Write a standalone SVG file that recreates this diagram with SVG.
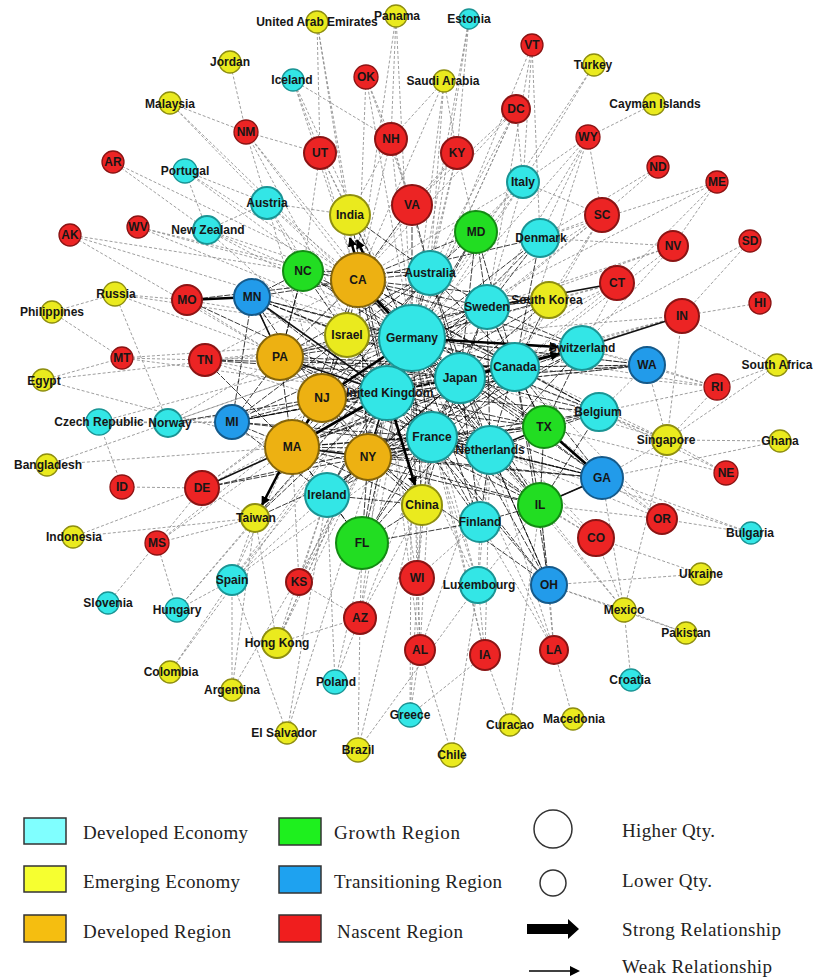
<svg xmlns="http://www.w3.org/2000/svg" width="814" height="978" viewBox="0 0 814 978">
<style>
.w{fill:none;stroke:#858585;stroke-width:0.8;stroke-dasharray:3 2}
.c{fill:none;stroke:#000;stroke-width:0.9;stroke-dasharray:6 1.5;opacity:0.85}
.m{fill:none;stroke:#111;stroke-width:1.6}
.s{fill:none;stroke:#000;stroke-width:2.6}
.nodes circle{stroke-width:2}
.nodes .sm circle{stroke-width:1.3}
.nodes text{font-family:"Liberation Sans",Arial,sans-serif;font-weight:bold;font-size:12px;text-anchor:middle;fill:#161616}
.de circle{fill:#33E6E6;stroke:#1A9494}
.em circle{fill:#EAEA1E;stroke:#8E8E10}
.dr circle{fill:#EDB112;stroke:#85650A}
.gr circle{fill:#22DD22;stroke:#138A13}
.tr circle{fill:#229BEA;stroke:#155A8A}
.na circle{fill:#EC2424;stroke:#8A1414}
.lg rect{stroke:#333;stroke-width:1.5}
.lg text{font-family:"Liberation Serif","Times New Roman",serif;font-size:19px;fill:#222}
</style>
<defs>
<marker id="ah" viewBox="0 0 10 10" refX="9" refY="5" markerWidth="3.6" markerHeight="3.6" orient="auto" markerUnits="strokeWidth"><path d="M0 0L10 5L0 10z" fill="#000"/></marker>
</defs>
<rect width="814" height="978" fill="#fff"/>
<g id="connectors">
<path class="w" d="M317 22L350 215M317 22L358 280M317 22L320 153M396 16L391 139M396 16L358 280M396 16L412 338M469 19L457 153M469 19L412 338M469 19L430 273M293 80L320 153M293 80L358 280M293 80L412 338M293 80L391 139M366 77L391 139M366 77L412 205M366 77L358 280M366 77L412 338M444 81L391 139M444 81L457 153M444 81L358 280M444 81L412 338M444 81L430 273M532 45L523 182M532 45L412 338M532 45L487 307M532 45L540 238M594 65L523 182M594 65L412 338M654 104L588 137M588 137L523 182M588 137L540 238M588 137L602 215M588 137L412 338M588 137L515 367M588 137L487 307M516 109L523 182M516 109L412 338M516 109L387 393M516 109L358 280M516 109L430 273M516 109L412 205M658 167L602 215M658 167L540 238M717 182L617 283M717 182L673 246M717 182L540 238M717 182L412 338M750 241L682 316M750 241L515 367M673 246L412 338M673 246L515 367M673 246L582 348M673 246L540 238M673 246L487 307M602 215L412 338M602 215L540 238M602 215L487 307M602 215L515 367M602 215L387 393M602 215L523 182M602 215L549 300M617 283L412 338M617 283L387 393M617 283L582 348M617 283L460 378M617 283L515 367M617 283L549 300M760 303L682 316M682 316L515 367M682 316L412 338M682 316L387 393M682 316L460 378M682 316L777 365M682 316L667 440M777 365L717 387M777 365L667 440M717 387L647 365M717 387L582 348M717 387L515 367M717 387L667 440M717 387L599 412M717 387L412 338M647 365L582 348M647 365L515 367M647 365L412 338M647 365L460 378M647 365L387 393M647 365L667 440M647 365L599 412M780 441L602 478M780 441L667 440M726 473L667 440M726 473L599 412M726 473L544 427M667 440L599 412M667 440L602 478M667 440L515 367M667 440L412 338M667 440L624 610M667 440L460 378M751 533L662 519M751 533L602 478M751 533L490 450M662 519L602 478M662 519L490 450M662 519L540 505M662 519L544 427M662 519L515 367M596 538L490 450M596 538L540 505M596 538L412 338M596 538L624 610M596 538L701 574M596 538L432 437M701 574L549 585M624 610L549 585M624 610L490 450M624 610L540 505M624 610L631 680M624 610L686 633M624 610L602 478M686 633L549 585M554 650L549 585M554 650L573 719M554 650L490 450M554 650L412 338M554 650L480 522M554 650L540 505M485 655L478 585M485 655L432 437M485 655L490 450M485 655L510 725M485 655L412 338M485 655L410 715M510 725L540 505M452 755L420 650M452 755L478 585M410 715L420 650M410 715L422 505M410 715L412 338M420 650L417 578M420 650L412 338M420 650L432 437M420 650L490 450M420 650L387 393M358 750L360 618M358 750L478 585M358 750L432 437M335 682L327 495M335 682L412 338M335 682L360 618M287 733L232 580M287 733L327 495M287 733L412 338M232 690L255 518M232 690L232 580M232 690L368 457M170 672L232 580M170 672L412 338M277 643L255 518M277 643L412 338M277 643L387 393M277 643L360 618M277 643L327 495M277 643L368 457M360 618L362 543M360 618L299 582M360 618L412 338M360 618L387 393M360 618L432 437M360 618L422 505M417 578L412 338M417 578L387 393M417 578L432 437M417 578L422 505M417 578L480 522M299 582L327 495M299 582L368 457M299 582L412 338M299 582L387 393M299 582L292 447M478 585L412 338M478 585L387 393M478 585L432 437M478 585L490 450M478 585L480 522M478 585L540 505M232 580L255 518M232 580L412 338M232 580L387 393M232 580L327 495M232 580L432 437M232 580L292 447M177 610L232 580M177 610L255 518M177 610L157 543M177 610L412 338M108 603L157 543M157 543L255 518M157 543L202 488M157 543L292 447M157 543L412 338M73 537L202 488M73 537L255 518M122 487L202 488M122 487L99 422M202 488L387 393M202 488L412 338M202 488L322 398M202 488L255 518M47 465L292 447M47 465L412 338M99 422L168 423M99 422L232 422M99 422L412 338M168 423L232 422M168 423L412 338M168 423L387 393M168 423L280 357M168 423L115 294M43 380L122 358M43 380L292 447M43 380L412 338M122 358L205 360M122 358L412 338M122 358L387 393M122 358L52 312M205 360L280 357M205 360L412 338M205 360L387 393M205 360L322 398M205 360L358 280M52 312L115 294M115 294L187 300M115 294L412 338M115 294L387 393M187 300L280 357M187 300L412 338M70 235L412 338M70 235L358 280M70 235L280 357M138 227L358 280M138 227L412 338M138 227L303 271M207 230L267 203M207 230L412 338M207 230L358 280M207 230L303 271M207 230L387 393M113 162L207 230M113 162L358 280M185 171L267 203M185 171L207 230M185 171L412 338M185 171L358 280M170 103L246 132M170 103L267 203M170 103L412 338M230 62L246 132M246 132L267 203M246 132L358 280M246 132L412 338M246 132L387 393M246 132L320 153M267 203L358 280M267 203L412 338M267 203L303 271M267 203L350 215M267 203L387 393M267 203L322 398M320 153L350 215M320 153L358 280M320 153L412 338M320 153L303 271M391 139L350 215M391 139L358 280M391 139L412 338M391 139L412 205M391 139L430 273M457 153L412 338M457 153L412 205M457 153L476 232M457 153L358 280M457 153L430 273M523 182L412 338M523 182L358 280M523 182L476 232M523 182L487 307M523 182L430 273M523 182L387 393"/>
<path class="c" d="M412 338L387 393M412 338L460 378M412 338L515 367M412 338L432 437M412 338L490 450M412 338L487 307M412 338L430 273M412 338L358 280M412 338L280 357M412 338L292 447M412 338L368 457M412 338L347 335M412 338L327 495M412 338L422 505M412 338L303 271M412 338L476 232M412 338L544 427M412 338L540 505M412 338L362 543M412 338L599 412M412 338L480 522M412 338L540 238M412 338L350 215M412 338L412 205M412 338L549 300M412 338L602 478M412 338L252 297M412 338L232 422M412 338L647 365M412 338L549 585M387 393L460 378M387 393L515 367M387 393L432 437M387 393L490 450M387 393L487 307M387 393L430 273M387 393L358 280M387 393L280 357M387 393L322 398M387 393L368 457M387 393L347 335M387 393L327 495M387 393L303 271M387 393L476 232M387 393L544 427M387 393L540 505M387 393L362 543M387 393L582 348M387 393L599 412M387 393L480 522M387 393L540 238M387 393L350 215M387 393L549 300M387 393L602 478M387 393L232 422M387 393L647 365M387 393L549 585M358 280L460 378M358 280L515 367M358 280L432 437M358 280L490 450M358 280L487 307M358 280L430 273M358 280L280 357M358 280L322 398M358 280L292 447M358 280L368 457M358 280L347 335M358 280L303 271M358 280L476 232M358 280L544 427M358 280L582 348M358 280L540 238M358 280L412 205M358 280L252 297M358 280L549 300M358 280L540 505M358 280L599 412M292 447L460 378M292 447L515 367M292 447L432 437M292 447L490 450M292 447L368 457M292 447L280 357M292 447L327 495M292 447L422 505M292 447L362 543M292 447L544 427M292 447L540 505M292 447L602 478M292 447L232 422M292 447L582 348M292 447L487 307M292 447L430 273M322 398L460 378M322 398L515 367M322 398L432 437M322 398L490 450M322 398L368 457M322 398L280 357M322 398L347 335M322 398L422 505M322 398L544 427M322 398L582 348M322 398L232 422M322 398L252 297M322 398L487 307M322 398L430 273M322 398L540 505M368 457L460 378M368 457L515 367M368 457L432 437M368 457L490 450M368 457L422 505M368 457L327 495M368 457L362 543M368 457L540 505M368 457L544 427M368 457L602 478M368 457L549 585M368 457L582 348M368 457L599 412M280 357L460 378M280 357L515 367M280 357L432 437M280 357L490 450M280 357L347 335M280 357L232 422M280 357L252 297M280 357L487 307M280 357L430 273M280 357L303 271M460 378L515 367M460 378L432 437M460 378L490 450M460 378L487 307M460 378L430 273M460 378L544 427M460 378L540 505M460 378L582 348M460 378L599 412M460 378L549 300M460 378L602 478M460 378L647 365M460 378L422 505M460 378L480 522M460 378L476 232M460 378L327 495M460 378L362 543M515 367L432 437M515 367L490 450M515 367L487 307M515 367L430 273M515 367L544 427M515 367L540 505M515 367L582 348M515 367L599 412M515 367L549 300M515 367L602 478M515 367L647 365M515 367L476 232M515 367L540 238M515 367L327 495M515 367L362 543M515 367L549 585M432 437L490 450M432 437L422 505M432 437L327 495M432 437L362 543M432 437L544 427M432 437L540 505M432 437L602 478M432 437L549 585M432 437L480 522M432 437L599 412M432 437L582 348M432 437L487 307M490 450L540 505M490 450L602 478M490 450L549 585M490 450L480 522M490 450L599 412M490 450L582 348M490 450L487 307M490 450L430 273M544 427L540 505M544 427L599 412M544 427L582 348M544 427L487 307M487 307L430 273M487 307L582 348M487 307L549 300M487 307L476 232M487 307L540 238M487 307L347 335M430 273L476 232M430 273L303 271M430 273L347 335M430 273L350 215M430 273L412 205M540 505L602 478M540 505L549 585M540 505L480 522M540 505L599 412M362 543L327 495M362 543L422 505M362 543L480 522M327 495L422 505M327 495L232 422M252 297L303 271M252 297L347 335M252 297L232 422M232 422L347 335M252 297L460 378M252 297L515 367M252 297L432 437M232 422L460 378M232 422L515 367M232 422L432 437M232 422L490 450M205 360L460 378M205 360L515 367M187 300L358 280M187 300L387 393M202 488L432 437M202 488L368 457M255 518L387 393M255 518L412 338M255 518L432 437M327 495L460 378M602 478L432 437M549 585L490 450M168 423L322 398M205 360L292 447M303 271L280 357M303 271L460 378M303 271L515 367"/>
<path class="m" d="M252 297L387 393M682 316L582 348M544 427L490 450M540 505L602 478M617 283L487 307M292 447L368 457M280 357L387 393M368 457L387 393M202 488L292 447M252 297L280 357"/>
<path class="s" d="M292 447L387 393M322 398L412 338M358 280L412 338M292 447L322 398M187 300L252 297M544 427L602 478"/>
<path class="s" marker-end="url(#ah)" d="M355 255L350 238"/>
<path class="s" marker-end="url(#ah)" d="M364 255L357 240"/>
<path class="s" marker-end="url(#ah)" d="M292 447L262 505"/>
<path class="s" marker-end="url(#ah)" d="M387 393L415 485"/>
<path class="s" marker-end="url(#ah)" d="M412 338L558 347"/>
<path class="s" marker-end="url(#ah)" d="M460 378L559 354"/>
</g>
<g class="nodes">
<g id="n-germany" class="de"><circle cx="412" cy="338" r="33"/><text x="412" y="342">Germany</text></g>
<g id="n-uk" class="de"><circle cx="387" cy="393" r="27"/><text x="387" y="397">United Kingdom</text></g>
<g id="n-japan" class="de"><circle cx="460" cy="378" r="25"/><text x="460" y="382">Japan</text></g>
<g id="n-canada" class="de"><circle cx="515" cy="367" r="24"/><text x="515" y="371">Canada</text></g>
<g id="n-france" class="de"><circle cx="432" cy="437" r="25"/><text x="432" y="441">France</text></g>
<g id="n-netherlands" class="de"><circle cx="490" cy="450" r="24"/><text x="490" y="454">Netherlands</text></g>
<g id="n-sweden" class="de"><circle cx="487" cy="307" r="22"/><text x="487" y="311">Sweden</text></g>
<g id="n-australia" class="de"><circle cx="430" cy="273" r="22"/><text x="430" y="277">Australia</text></g>
<g id="n-ireland" class="de"><circle cx="327" cy="495" r="22"/><text x="327" y="499">Ireland</text></g>
<g id="n-italy" class="de"><circle cx="523" cy="182" r="16"/><text x="523" y="186">Italy</text></g>
<g id="n-denmark" class="de"><circle cx="540" cy="238" r="19"/><text x="541" y="242">Denmark</text></g>
<g id="n-switzerland" class="de"><circle cx="582" cy="348" r="22"/><text x="582" y="352">Switzerland</text></g>
<g id="n-belgium" class="de"><circle cx="599" cy="412" r="19"/><text x="598" y="416">Belgium</text></g>
<g id="n-finland" class="de"><circle cx="480" cy="522" r="20"/><text x="480" y="526">Finland</text></g>
<g id="n-luxembourg" class="de"><circle cx="478" cy="585" r="18"/><text x="479" y="589">Luxembourg</text></g>
<g id="n-austria" class="de"><circle cx="267" cy="203" r="16"/><text x="267" y="207">Austria</text></g>
<g id="n-newzealand" class="de"><circle cx="207" cy="230" r="14"/><text x="208" y="234">New Zealand</text></g>
<g id="n-portugal" class="de sm"><circle cx="185" cy="171" r="12"/><text x="185" y="175">Portugal</text></g>
<g id="n-iceland" class="de sm"><circle cx="293" cy="80" r="11"/><text x="292" y="84">Iceland</text></g>
<g id="n-estonia" class="de sm"><circle cx="469" cy="19" r="10"/><text x="469" y="23">Estonia</text></g>
<g id="n-czech" class="de sm"><circle cx="99" cy="422" r="13"/><text x="99" y="426">Czech Republic</text></g>
<g id="n-norway" class="de"><circle cx="168" cy="423" r="14"/><text x="170" y="427">Norway</text></g>
<g id="n-spain" class="de"><circle cx="232" cy="580" r="15"/><text x="232" y="584">Spain</text></g>
<g id="n-hungary" class="de sm"><circle cx="177" cy="610" r="12"/><text x="177" y="614">Hungary</text></g>
<g id="n-slovenia" class="de sm"><circle cx="108" cy="603" r="11"/><text x="108" y="607">Slovenia</text></g>
<g id="n-poland" class="de sm"><circle cx="335" cy="682" r="12"/><text x="336" y="686">Poland</text></g>
<g id="n-greece" class="de sm"><circle cx="410" cy="715" r="12"/><text x="410" y="719">Greece</text></g>
<g id="n-bulgaria" class="de sm"><circle cx="751" cy="533" r="11"/><text x="750" y="537">Bulgaria</text></g>
<g id="n-croatia" class="de sm"><circle cx="631" cy="680" r="11"/><text x="630" y="684">Croatia</text></g>
<g id="n-india" class="em"><circle cx="350" cy="215" r="20"/><text x="350" y="219">India</text></g>
<g id="n-israel" class="em"><circle cx="347" cy="335" r="22"/><text x="347" y="339">Israel</text></g>
<g id="n-china" class="em"><circle cx="422" cy="505" r="20"/><text x="422" y="509">China</text></g>
<g id="n-southkorea" class="em"><circle cx="549" cy="300" r="18"/><text x="547" y="304">South Korea</text></g>
<g id="n-singapore" class="em"><circle cx="667" cy="440" r="15"/><text x="666" y="444">Singapore</text></g>
<g id="n-taiwan" class="em"><circle cx="255" cy="518" r="14"/><text x="256" y="522">Taiwan</text></g>
<g id="n-hongkong" class="em"><circle cx="277" cy="643" r="15"/><text x="277" y="647">Hong Kong</text></g>
<g id="n-russia" class="em sm"><circle cx="115" cy="294" r="12"/><text x="116" y="298">Russia</text></g>
<g id="n-philippines" class="em sm"><circle cx="52" cy="312" r="11"/><text x="52" y="316">Philippines</text></g>
<g id="n-egypt" class="em sm"><circle cx="43" cy="380" r="11"/><text x="44" y="385">Egypt</text></g>
<g id="n-bangladesh" class="em sm"><circle cx="47" cy="465" r="11"/><text x="48" y="469">Bangladesh</text></g>
<g id="n-indonesia" class="em sm"><circle cx="73" cy="537" r="11"/><text x="74" y="541">Indonesia</text></g>
<g id="n-colombia" class="em sm"><circle cx="170" cy="672" r="11"/><text x="171" y="676">Colombia</text></g>
<g id="n-argentina" class="em sm"><circle cx="232" cy="690" r="11"/><text x="232" y="694">Argentina</text></g>
<g id="n-elsalvador" class="em sm"><circle cx="287" cy="733" r="11"/><text x="284" y="737">El Salvador</text></g>
<g id="n-brazil" class="em sm"><circle cx="358" cy="750" r="12"/><text x="358" y="754">Brazil</text></g>
<g id="n-chile" class="em sm"><circle cx="452" cy="755" r="12"/><text x="452" y="759">Chile</text></g>
<g id="n-curacao" class="em sm"><circle cx="510" cy="725" r="11"/><text x="510" y="729">Curacao</text></g>
<g id="n-macedonia" class="em sm"><circle cx="573" cy="719" r="11"/><text x="574" y="723">Macedonia</text></g>
<g id="n-mexico" class="em sm"><circle cx="624" cy="610" r="12"/><text x="624" y="614">Mexico</text></g>
<g id="n-pakistan" class="em sm"><circle cx="686" cy="633" r="11"/><text x="686" y="637">Pakistan</text></g>
<g id="n-ukraine" class="em sm"><circle cx="701" cy="574" r="11"/><text x="701" y="578">Ukraine</text></g>
<g id="n-ghana" class="em sm"><circle cx="780" cy="441" r="11"/><text x="780" y="445">Ghana</text></g>
<g id="n-southafrica" class="em sm"><circle cx="777" cy="365" r="11"/><text x="777" y="369">South Africa</text></g>
<g id="n-cayman" class="em sm"><circle cx="654" cy="104" r="11"/><text x="655" y="108">Cayman Islands</text></g>
<g id="n-turkey" class="em sm"><circle cx="594" cy="65" r="11"/><text x="593" y="69">Turkey</text></g>
<g id="n-saudi" class="em sm"><circle cx="444" cy="81" r="11"/><text x="443" y="85">Saudi Arabia</text></g>
<g id="n-panama" class="em sm"><circle cx="396" cy="16" r="11"/><text x="397" y="20">Panama</text></g>
<g id="n-uae" class="em sm"><circle cx="317" cy="22" r="11"/><text x="317" y="26">United Arab Emirates</text></g>
<g id="n-jordan" class="em sm"><circle cx="230" cy="62" r="11"/><text x="230" y="66">Jordan</text></g>
<g id="n-malaysia" class="em sm"><circle cx="170" cy="103" r="11"/><text x="170" y="108">Malaysia</text></g>
<g id="n-ca" class="dr"><circle cx="358" cy="280" r="27"/><text x="358" y="284">CA</text></g>
<g id="n-pa" class="dr"><circle cx="280" cy="357" r="23"/><text x="280" y="361">PA</text></g>
<g id="n-nj" class="dr"><circle cx="322" cy="398" r="24"/><text x="322" y="402">NJ</text></g>
<g id="n-ma" class="dr"><circle cx="292" cy="447" r="27"/><text x="292" y="451">MA</text></g>
<g id="n-ny" class="dr"><circle cx="368" cy="457" r="23"/><text x="368" y="461">NY</text></g>
<g id="n-nc" class="gr"><circle cx="303" cy="271" r="20"/><text x="303" y="275">NC</text></g>
<g id="n-md" class="gr"><circle cx="476" cy="232" r="21"/><text x="476" y="236">MD</text></g>
<g id="n-tx" class="gr"><circle cx="544" cy="427" r="21"/><text x="544" y="431">TX</text></g>
<g id="n-il" class="gr"><circle cx="540" cy="505" r="22"/><text x="540" y="509">IL</text></g>
<g id="n-fl" class="gr"><circle cx="362" cy="543" r="26"/><text x="362" y="547">FL</text></g>
<g id="n-mn" class="tr"><circle cx="252" cy="297" r="18"/><text x="252" y="301">MN</text></g>
<g id="n-mi" class="tr"><circle cx="232" cy="422" r="17"/><text x="232" y="426">MI</text></g>
<g id="n-wa" class="tr"><circle cx="647" cy="365" r="18"/><text x="647" y="369">WA</text></g>
<g id="n-ga" class="tr"><circle cx="602" cy="478" r="21"/><text x="602" y="482">GA</text></g>
<g id="n-oh" class="tr"><circle cx="549" cy="585" r="18"/><text x="549" y="589">OH</text></g>
<g id="n-va" class="na"><circle cx="412" cy="205" r="20"/><text x="412" y="209">VA</text></g>
<g id="n-ut" class="na"><circle cx="320" cy="153" r="16"/><text x="320" y="157">UT</text></g>
<g id="n-nh" class="na"><circle cx="391" cy="139" r="16"/><text x="391" y="143">NH</text></g>
<g id="n-ky" class="na"><circle cx="457" cy="153" r="16"/><text x="457" y="157">KY</text></g>
<g id="n-ok" class="na sm"><circle cx="366" cy="77" r="12"/><text x="366" y="81">OK</text></g>
<g id="n-dc" class="na"><circle cx="516" cy="109" r="14"/><text x="516" y="113">DC</text></g>
<g id="n-vt" class="na sm"><circle cx="532" cy="45" r="11"/><text x="532" y="49">VT</text></g>
<g id="n-wy" class="na sm"><circle cx="588" cy="137" r="12"/><text x="588" y="141">WY</text></g>
<g id="n-nd" class="na sm"><circle cx="658" cy="167" r="11"/><text x="658" y="171">ND</text></g>
<g id="n-me" class="na sm"><circle cx="717" cy="182" r="11"/><text x="717" y="186">ME</text></g>
<g id="n-sc" class="na"><circle cx="602" cy="215" r="17"/><text x="602" y="219">SC</text></g>
<g id="n-nv" class="na"><circle cx="673" cy="246" r="15"/><text x="673" y="250">NV</text></g>
<g id="n-sd" class="na sm"><circle cx="750" cy="241" r="11"/><text x="750" y="245">SD</text></g>
<g id="n-ct" class="na"><circle cx="617" cy="283" r="17"/><text x="617" y="287">CT</text></g>
<g id="n-in" class="na"><circle cx="682" cy="316" r="17"/><text x="682" y="320">IN</text></g>
<g id="n-hi" class="na sm"><circle cx="760" cy="303" r="11"/><text x="760" y="307">HI</text></g>
<g id="n-ri" class="na sm"><circle cx="717" cy="387" r="13"/><text x="717" y="391">RI</text></g>
<g id="n-ne" class="na sm"><circle cx="726" cy="473" r="12"/><text x="726" y="477">NE</text></g>
<g id="n-or" class="na"><circle cx="662" cy="519" r="15"/><text x="662" y="523">OR</text></g>
<g id="n-co" class="na"><circle cx="596" cy="538" r="18"/><text x="596" y="542">CO</text></g>
<g id="n-la" class="na"><circle cx="554" cy="650" r="14"/><text x="554" y="654">LA</text></g>
<g id="n-ia" class="na"><circle cx="485" cy="655" r="15"/><text x="485" y="659">IA</text></g>
<g id="n-al" class="na"><circle cx="420" cy="650" r="15"/><text x="420" y="654">AL</text></g>
<g id="n-az" class="na"><circle cx="360" cy="618" r="16"/><text x="360" y="622">AZ</text></g>
<g id="n-wi" class="na"><circle cx="417" cy="578" r="17"/><text x="417" y="582">WI</text></g>
<g id="n-ks" class="na"><circle cx="299" cy="582" r="13"/><text x="299" y="586">KS</text></g>
<g id="n-ms" class="na sm"><circle cx="157" cy="543" r="12"/><text x="157" y="547">MS</text></g>
<g id="n-id" class="na sm"><circle cx="122" cy="487" r="12"/><text x="122" y="491">ID</text></g>
<g id="n-de" class="na"><circle cx="202" cy="488" r="17"/><text x="202" y="492">DE</text></g>
<g id="n-tn" class="na"><circle cx="205" cy="360" r="16"/><text x="205" y="364">TN</text></g>
<g id="n-mt" class="na sm"><circle cx="122" cy="358" r="11"/><text x="122" y="362">MT</text></g>
<g id="n-mo" class="na"><circle cx="187" cy="300" r="15"/><text x="187" y="304">MO</text></g>
<g id="n-wv" class="na sm"><circle cx="138" cy="227" r="11"/><text x="138" y="231">WV</text></g>
<g id="n-ak" class="na sm"><circle cx="70" cy="235" r="11"/><text x="70" y="239">AK</text></g>
<g id="n-ar" class="na sm"><circle cx="113" cy="162" r="11"/><text x="113" y="166">AR</text></g>
<g id="n-nm" class="na sm"><circle cx="246" cy="132" r="12"/><text x="246" y="136">NM</text></g>
</g>
<g id="legend" class="lg">
<rect x="24" y="818" width="42" height="26" fill="#80FFFF"/>
<text x="83" y="839" textLength="165">Developed Economy</text>
<rect x="24" y="866" width="42" height="26" fill="#F6FF30"/>
<text x="83" y="888" textLength="157">Emerging Economy</text>
<rect x="24" y="915" width="42" height="27" fill="#F5BE10"/>
<text x="83" y="938" textLength="148">Developed Region</text>
<rect x="279" y="818" width="42" height="27" fill="#1EF01E"/>
<text x="334" y="839" textLength="126">Growth Region</text>
<rect x="279" y="866" width="42" height="27" fill="#1EA2F0"/>
<text x="334" y="888" textLength="168">Transitioning Region</text>
<rect x="279" y="915" width="42" height="27" fill="#F01E1E"/>
<text x="337" y="938" textLength="126">Nascent Region</text>
<circle cx="553" cy="829" r="19" fill="none" stroke="#333" stroke-width="1.5"/>
<text x="622" y="837" textLength="93">Higher Qty.</text>
<circle cx="553" cy="883" r="13" fill="none" stroke="#333" stroke-width="1.5"/>
<text x="622" y="887" textLength="90">Lower Qty.</text>
<polygon points="527,924 568,924 568,919 579,929 568,939 568,934 527,934" fill="#000"/>
<text x="622" y="936" textLength="159">Strong Relationship</text>
<line x1="529" y1="971" x2="571" y2="971" stroke="#000" stroke-width="1.5"/>
<polygon points="570,966 580,971 570,976" fill="#000"/>
<text x="622" y="973" textLength="150">Weak Relationship</text>
</g>
</svg>
